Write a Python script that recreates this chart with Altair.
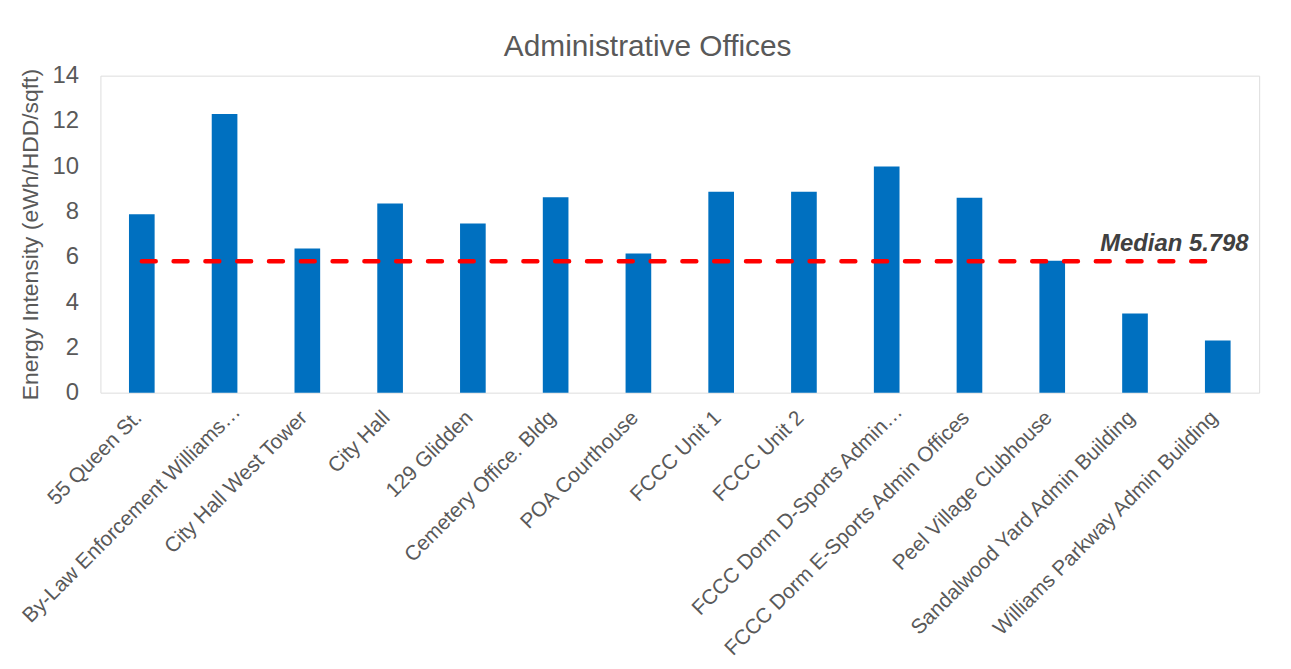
import altair as alt
import pandas as pd

buildings = [
    "55 Queen St.",
    "By-Law Enforcement Williams…",
    "City Hall West Tower",
    "City Hall",
    "129 Glidden",
    "Cemetery Office. Bldg",
    "POA Courthouse",
    "FCCC Unit 1",
    "FCCC Unit 2",
    "FCCC Dorm D-Sports Admin…",
    "FCCC Dorm E-Sports Admin Offices",
    "Peel Village Clubhouse",
    "Sandalwood Yard Admin Building",
    "Williams Parkway Admin Building",
]
intensity = [7.88, 12.31, 6.37, 8.35, 7.47, 8.63, 6.14, 8.87, 8.87, 9.99, 8.61, 5.82, 3.50, 2.30]
median_value = 5.798
median_label = "Median 5.798"

df = pd.DataFrame({"building": buildings, "value": intensity, "median": [median_value] * len(buildings)})
lab = pd.DataFrame({"building": [buildings[-1]], "median": [median_value], "label": [median_label]})

FONT = "Liberation Sans"
GRAY = "#595959"
TRUNC = "indexof(datum.label, '…') >= 0"

x = alt.X(
    "building:N",
    sort=buildings,
    title=None,
    scale=alt.Scale(paddingInner=0.69, paddingOuter=0.345),
    axis=alt.Axis(labelAngle=-45, labelFontSize=21, labelColor=GRAY, labelFont=FONT,
                  ticks=False, domain=False,
                  labelPadding={"condition": {"test": TRUNC, "value": 8}, "value": 14},
                  labelOffset={"condition": {"test": TRUNC, "value": 5}, "value": -11},
                  labelLimit=500, labelOverlap=False),
)

bars = alt.Chart(df).mark_bar(color="#0070C0").encode(
    x=x,
    y=alt.Y("value:Q", scale=alt.Scale(domain=[0, 14]),
            title="Energy Intensity (eWh/HDD/sqft)",
            axis=alt.Axis(values=list(range(0, 15, 2)), grid=False, ticks=False, domain=False,
                          labelFontSize=24, labelColor=GRAY, labelFont=FONT, labelPadding=22,
                          titleFontSize=23, titleColor=GRAY, titleFont=FONT, titleFontWeight="normal",
                          titlePadding=10)),
)

line = alt.Chart(df).mark_line(color="#FF0000", strokeWidth=4.5, strokeDash=[14, 18],
                               strokeCap="round").encode(
    x=alt.X("building:N", sort=buildings),
    y=alt.Y("median:Q"),
)

text = alt.Chart(lab).mark_text(
    align="right", baseline="alphabetic", dx=31, dy=-10, fontSize=24, fontWeight="bold",
    fontStyle="italic", font=FONT, color="#404040",
).encode(
    x=alt.X("building:N", sort=buildings),
    y=alt.Y("median:Q"),
    text="label:N",
)

chart = alt.layer(bars, line, text).properties(
    width=1166,
    height=319,
    autosize=alt.AutoSizeParams(type="none"),
    padding={"left": 93, "top": 66, "right": 24, "bottom": 270},
    title=alt.TitleParams("Administrative Offices", fontSize=30, color=GRAY, font=FONT,
                          fontWeight="normal", offset=2, frame="bounds", anchor="middle", dx=9),
).configure_view(stroke="#D9D9D9", strokeWidth=2).configure(background="white")

chart.save("out.html", embed_options={"renderer": "svg", "actions": False})
